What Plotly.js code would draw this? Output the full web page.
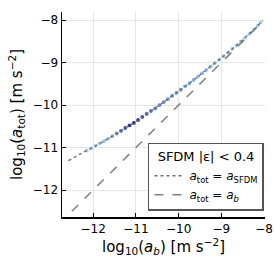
<!DOCTYPE html>
<html><head><meta charset="utf-8">
<script src="https://cdn.plot.ly/plotly-3.0.1.min.js"></script>
<style>html,body{margin:0;padding:0;background:#fff}#plot{width:275px;height:275px}</style>
</head><body><div id="plot"></div>
<script>
// SFDM model curve (log10 a_b, log10 a_tot)
const sfdmX = [-12.58, -12.3, -12.0, -11.7, -11.4, -11.1, -10.8, -10.5, -10.2, -9.9, -9.6, -9.3, -9.0, -8.7, -8.4, -8.03];
const sfdmY = [-11.31, -11.15, -10.99, -10.82, -10.64, -10.45, -10.25, -10.04, -9.82, -9.60, -9.37, -9.13, -8.89, -8.64, -8.37, -8.01];
// one-to-one line a_tot = a_b
const unityX = [-12.5, -8.02];
const unityY = [-12.5, -8.02];
// data points (log10 a_b, log10 a_tot) and relative point density
const ptsX = [-12.15,-12.05,-11.95,-11.85,-11.75,-11.65,-11.55,-11.45,-11.35,-11.25,-11.15,-11.05,-10.95,-10.85,-10.75,-10.65,-10.55,-10.45,-10.35,-10.25,-10.15,-10.05,-9.95,-9.85,-9.75,-9.65,-9.55,-9.45,-9.35,-9.25,-9.15,-9.05,-8.95,-8.85,-8.75,-8.65,-8.55,-8.45,-8.35,-8.25,-8.15,-8.08];
const ptsY = [-11.07,-11.02,-10.96,-10.90,-10.85,-10.79,-10.73,-10.67,-10.61,-10.54,-10.48,-10.42,-10.35,-10.28,-10.21,-10.14,-10.08,-10.00,-9.93,-9.86,-9.78,-9.71,-9.64,-9.56,-9.49,-9.41,-9.33,-9.25,-9.17,-9.09,-9.01,-8.93,-8.85,-8.77,-8.68,-8.60,-8.51,-8.42,-8.33,-8.23,-8.13,-8.06];
const ptsDensity = [0.05,0.08,0.1,0.12,0.18,0.25,0.35,0.5,0.7,0.85,0.95,1.0,0.95,0.85,0.75,0.65,0.6,0.55,0.55,0.5,0.5,0.45,0.45,0.4,0.4,0.35,0.3,0.3,0.25,0.2,0.2,0.15,0.15,0.12,0.1,0.1,0.1,0.1,0.1,0.1,0.1,0.1];
const xTicks = [-12, -11, -10, -9, -8];
const yTicks = [-12, -11, -10, -9, -8];
const legendTitle = "SFDM |ε| < 0.4";
const nameSFDM = "<i>a</i><sub>tot</sub> = <i>a</i><sub>SFDM</sub>";
const nameUnity = "<i>a</i><sub>tot</sub> = <i>a<sub>b</sub></i>";

const font = "DejaVu Sans, sans-serif";
const traces = [
  {x: ptsX, y: ptsY, type: 'scatter', mode: 'markers', showlegend: false, hoverinfo: 'skip',
   marker: {size: 3.8, symbol: 'circle', color: ptsDensity, cmin: 0, cmax: 1, opacity: 0.95,
            colorscale: [[0, '#a9d9f0'], [0.4, '#72a8de'], [0.75, '#3f57bb'], [1, '#20248c']],
            line: {width: 0}}},
  {x: unityX, y: unityY, type: 'scatter', mode: 'lines', name: nameUnity,
   line: {color: '#808080', width: 1.5, dash: 'dash'}},
  {x: sfdmX, y: sfdmY, type: 'scatter', mode: 'lines', name: nameSFDM, line: {color: '#707070', width: 1.4, dash: 'dot', shape: 'spline'}}
];
const axBase = {showline: true, linecolor: '#000', linewidth: 1.5, mirror: false, zeroline: false,
  showgrid: true, gridcolor: '#e6e6e6', gridwidth: 1, ticks: 'inside', ticklen: 4, tickcolor: '#000',
  tickfont: {family: font, size: 12, color: '#000'}, tickmode: 'array'};
const layout = {
  width: 275, height: 275, margin: {l: 62, r: 10, t: 12, b: 58},
  paper_bgcolor: '#fff', plot_bgcolor: '#fff', font: {family: font, color: '#000'},
  xaxis: Object.assign({}, axBase, {range: [-12.73, -7.98], tickvals: xTicks, ticktext: xTicks.map(v => '\u2212' + Math.abs(v)),
    title: {text: 'log<sub>10</sub>(<i>a<sub>b</sub></i>) [m s<sup>\u22122</sup>]', font: {family: font, size: 15}, standoff: 6}}),
  yaxis: Object.assign({}, axBase, {range: [-12.635, -7.81], tickvals: yTicks, ticktext: yTicks.map(v => '\u2212' + Math.abs(v)),
    title: {text: 'log<sub>10</sub>(<i>a</i><sub>tot</sub>) [m s<sup>\u22122</sup>]', font: {family: font, size: 15}, standoff: 6}}),
  legend: {x: 0.995, xanchor: 'right', y: 0.03, yanchor: 'bottom', bgcolor: '#fff', bordercolor: '#555', borderwidth: 1.5,
    font: {family: font, size: 12}, traceorder: 'reversed', itemwidth: 30,
    title: {text: legendTitle, side: 'top center', font: {family: font, size: 13}}}
};
Plotly.newPlot('plot', traces, layout, {staticPlot: true, displayModeBar: false});
</script></body></html>
